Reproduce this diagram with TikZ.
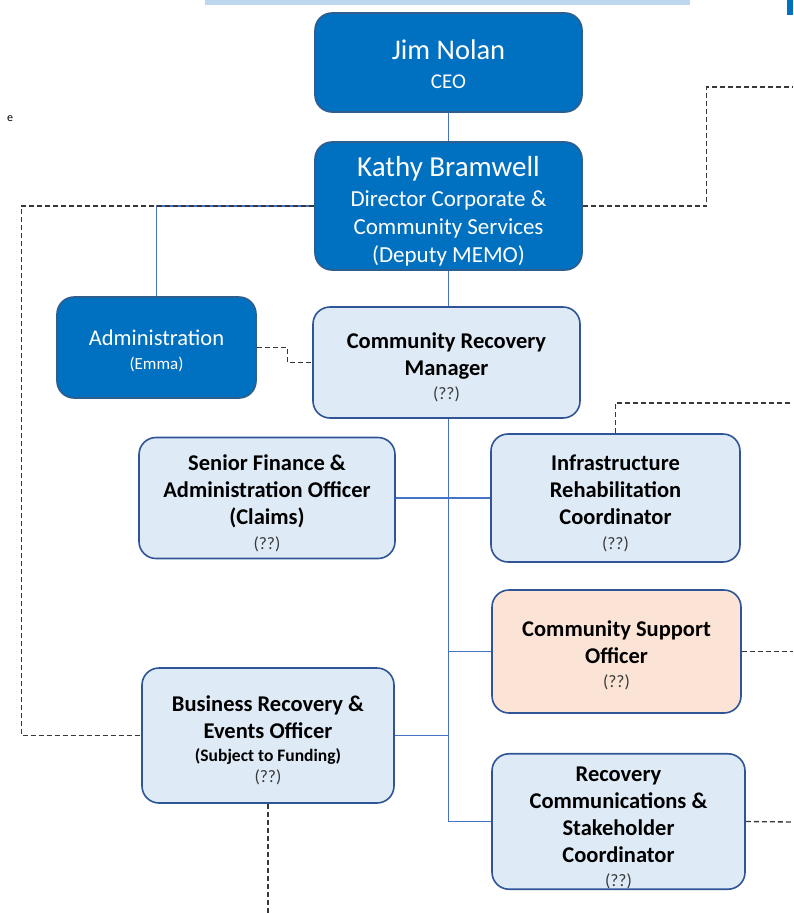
\documentclass[tikz,border=0pt]{standalone}
\usepackage{fontspec}
\setmainfont{Carlito}
\usepackage{tikz}
\usetikzlibrary{positioning}
\definecolor{darkblue}{HTML}{0070C0}
\definecolor{darkedge}{HTML}{2E5E8E}
\definecolor{paleblue}{HTML}{DEEAF6}
\definecolor{paleedge}{HTML}{2F5597}
\definecolor{peach}{HTML}{FBE4D5}
\definecolor{linkblue}{HTML}{4472C4}
\definecolor{barblue}{HTML}{BDD7EE}
\definecolor{dashgray}{HTML}{383838}
\newcommand{\unk}{{\fontsize{17.5}{20}\selectfont\mdseries\color{dashgray}(??)}}
\newcommand{\dropto}[1]{\rule{0pt}{#1}}

\begin{document}
\begin{tikzpicture}[x=1pt,y=-1pt,
  darkbox/.style={draw=darkedge,line width=1.6pt,fill=darkblue,text=white,rounded corners=17pt,align=center,inner sep=0pt},
  lightbox/.style={draw=paleedge,line width=1.6pt,fill=paleblue,text=black,rounded corners=17pt,align=center,inner sep=0pt,
    font=\fontsize{22.5}{27}\selectfont\bfseries},
  link/.style={draw=linkblue,line width=1.1pt},
  dashlink/.style={draw=dashgray,line width=1.3pt,dash pattern=on 5pt off 3pt}]
\useasboundingbox (0,0) rectangle (793,913);
\fill[barblue] (205,0) rectangle (690,5);
\fill[darkblue] (787,0) rectangle (793,15);
\node[font=\fontsize{12}{14}\selectfont] (mark) at (10,119) {e};

\node[darkbox,minimum width=267pt,minimum height=99pt,font=\fontsize{21}{29}\selectfont] (ceo) at (448.5,62.5)
  {\dropto{24pt}{\fontsize{28.5}{30}\selectfont Jim Nolan}\\CEO};
\node[darkbox,minimum width=267pt,minimum height=128pt,font=\fontsize{23}{28}\selectfont] (dir) at (448.5,206)
  {\dropto{30pt}{\fontsize{29}{30}\selectfont Kathy Bramwell}\\[2pt]Director Corporate \&\\Community Services\\(Deputy MEMO)};
\node[darkbox,minimum width=199pt,minimum height=101pt,font=\fontsize{17}{24}\selectfont] (admin) at (156.5,347.5)
  {\dropto{23pt}{\fontsize{22.5}{26}\selectfont Administration}\\(Emma)};
\node[lightbox,minimum width=267pt,minimum height=111pt] (crm) at (446.5,362.5)
  {\dropto{26pt}Community Recovery\\Manager\\[-3pt]\unk};
\node[lightbox,minimum width=256pt,minimum height=121pt] (fin) at (267,498)
  {\dropto{26pt}Senior Finance \&\\Administration Officer\\(Claims)\\[-2pt]\unk};
\node[lightbox,minimum width=249pt,minimum height=128pt] (infra) at (615.5,498)
  {\dropto{26pt}Infrastructure\\Rehabilitation\\Coordinator\\[-2pt]\unk};
\node[lightbox,fill=peach,minimum width=249pt,minimum height=123pt] (cso) at (616.5,651.5)
  {\dropto{24pt}Community Support\\Officer\\[-3pt]\unk};
\node[lightbox,minimum width=252pt,minimum height=135pt] (bus) at (268,735.5)
  {\dropto{26pt}Business Recovery \&\\Events Officer\\[-4pt]{\fontsize{17.5}{20}\selectfont (Subject to Funding)}\\[-6pt]\unk};
\node[lightbox,minimum width=253pt,minimum height=133pt] (comms) at (618.5,821.5)
  {\dropto{28pt}Recovery\\Communications \&\\Stakeholder\\Coordinator\\[-3pt]\unk};

\coordinate (outA) at (793,87);
\coordinate (outB) at (793,403);
\coordinate (outC) at (793,651.5);
\coordinate (outD) at (793,822);
\coordinate (outE) at (268,913);

\draw[link] (ceo) -- (dir);
\draw[link] (dir.west) -| (admin.north);
\draw[link] (dir.south) -- (dir.south |- crm.north);
\draw[link] (dir.south |- crm.south) |- (comms.west);
\draw[link] (fin.east) -- (infra.west);
\draw[link] (cso.west) -- (cso.west -| dir.south);
\draw[link] (bus.east) -- (bus.east -| dir.south);

\draw[dashlink] (admin.east) -- ++(31,0) |- (crm.west);
\draw[dashlink] (dir.east) -- ++(124,0) |- (outA);
\draw[dashlink] (dir.west) -- ++(-293,0) |- (bus.west);
\draw[dashlink] (infra.north) |- (outB);
\draw[dashlink] (cso.east) -- (outC);
\draw[dashlink] (comms.east) -- (outD);
\draw[dashlink] (bus.south) -- (outE);
\end{tikzpicture}
\end{document}
